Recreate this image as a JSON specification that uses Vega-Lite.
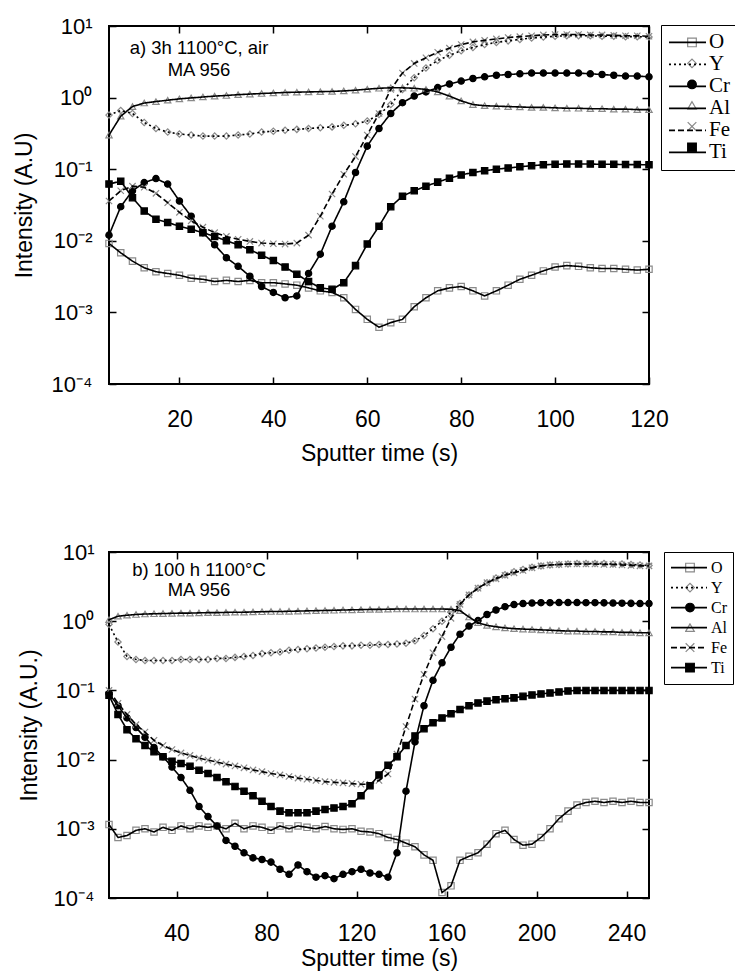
{
  "$schema": "https://vega.github.io/schema/vega-lite/v6.json",
  "padding": {"left": 12, "top": 14, "right": 0, "bottom": 0},
  "datasets": {
    "a": [
      {"t":5,"O":0.0092,"Y":0.57,"Cr":0.012,"Al":0.3,"Fe":0.036,"Ti":0.062},
      {"t":7.5,"O":0.0068,"Y":0.66,"Cr":0.03,"Al":0.55,"Fe":0.05,"Ti":0.068},
      {"t":10,"O":0.0052,"Y":0.6,"Cr":0.05,"Al":0.75,"Fe":0.058,"Ti":0.04},
      {"t":12.5,"O":0.0042,"Y":0.45,"Cr":0.065,"Al":0.84,"Fe":0.056,"Ti":0.026},
      {"t":15,"O":0.0037,"Y":0.37,"Cr":0.074,"Al":0.88,"Fe":0.046,"Ti":0.02},
      {"t":17.5,"O":0.0035,"Y":0.33,"Cr":0.062,"Al":0.92,"Fe":0.034,"Ti":0.018},
      {"t":20,"O":0.0033,"Y":0.31,"Cr":0.036,"Al":0.96,"Fe":0.025,"Ti":0.016},
      {"t":22.5,"O":0.003,"Y":0.3,"Cr":0.022,"Al":0.99,"Fe":0.019,"Ti":0.0145},
      {"t":25,"O":0.0029,"Y":0.29,"Cr":0.013,"Al":1.02,"Fe":0.0155,"Ti":0.013},
      {"t":27.5,"O":0.0027,"Y":0.29,"Cr":0.0088,"Al":1.05,"Fe":0.013,"Ti":0.0115},
      {"t":30,"O":0.0028,"Y":0.29,"Cr":0.0058,"Al":1.07,"Fe":0.0115,"Ti":0.01},
      {"t":32.5,"O":0.0027,"Y":0.3,"Cr":0.0044,"Al":1.1,"Fe":0.0105,"Ti":0.0088},
      {"t":35,"O":0.0028,"Y":0.31,"Cr":0.0032,"Al":1.12,"Fe":0.0098,"Ti":0.0075},
      {"t":37.5,"O":0.0026,"Y":0.33,"Cr":0.0023,"Al":1.14,"Fe":0.0093,"Ti":0.0063},
      {"t":40,"O":0.0026,"Y":0.34,"Cr":0.0019,"Al":1.16,"Fe":0.0091,"Ti":0.0053},
      {"t":42.5,"O":0.0025,"Y":0.35,"Cr":0.0016,"Al":1.18,"Fe":0.009,"Ti":0.0043},
      {"t":45,"O":0.0024,"Y":0.36,"Cr":0.0017,"Al":1.19,"Fe":0.0093,"Ti":0.0034},
      {"t":47.5,"O":0.0022,"Y":0.37,"Cr":0.0035,"Al":1.2,"Fe":0.012,"Ti":0.0027},
      {"t":50,"O":0.002,"Y":0.38,"Cr":0.0065,"Al":1.21,"Fe":0.022,"Ti":0.0022},
      {"t":52.5,"O":0.0019,"Y":0.39,"Cr":0.016,"Al":1.22,"Fe":0.045,"Ti":0.0021},
      {"t":55,"O":0.0016,"Y":0.41,"Cr":0.035,"Al":1.24,"Fe":0.085,"Ti":0.0026},
      {"t":57.5,"O":0.0011,"Y":0.43,"Cr":0.09,"Al":1.27,"Fe":0.15,"Ti":0.0045},
      {"t":60,"O":0.0008,"Y":0.47,"Cr":0.21,"Al":1.31,"Fe":0.3,"Ti":0.009},
      {"t":62.5,"O":0.00062,"Y":0.58,"Cr":0.37,"Al":1.35,"Fe":0.6,"Ti":0.016},
      {"t":65,"O":0.00072,"Y":0.8,"Cr":0.6,"Al":1.37,"Fe":1.3,"Ti":0.03},
      {"t":67.5,"O":0.0008,"Y":1.3,"Cr":0.85,"Al":1.37,"Fe":2.2,"Ti":0.042},
      {"t":70,"O":0.0012,"Y":1.9,"Cr":1.05,"Al":1.35,"Fe":3.0,"Ti":0.05},
      {"t":72.5,"O":0.0016,"Y":2.6,"Cr":1.2,"Al":1.3,"Fe":3.6,"Ti":0.058},
      {"t":75,"O":0.002,"Y":3.3,"Cr":1.38,"Al":1.2,"Fe":4.3,"Ti":0.066},
      {"t":77.5,"O":0.0022,"Y":3.9,"Cr":1.55,"Al":1.05,"Fe":4.9,"Ti":0.075},
      {"t":80,"O":0.0023,"Y":4.5,"Cr":1.7,"Al":0.9,"Fe":5.5,"Ti":0.083},
      {"t":82.5,"O":0.002,"Y":5.0,"Cr":1.85,"Al":0.8,"Fe":6.0,"Ti":0.09},
      {"t":85,"O":0.0017,"Y":5.5,"Cr":1.95,"Al":0.77,"Fe":6.3,"Ti":0.095},
      {"t":87.5,"O":0.002,"Y":5.9,"Cr":2.05,"Al":0.76,"Fe":6.6,"Ti":0.1},
      {"t":90,"O":0.0024,"Y":6.2,"Cr":2.1,"Al":0.75,"Fe":6.9,"Ti":0.104},
      {"t":92.5,"O":0.0029,"Y":6.5,"Cr":2.15,"Al":0.74,"Fe":7.1,"Ti":0.108},
      {"t":95,"O":0.0033,"Y":6.8,"Cr":2.2,"Al":0.73,"Fe":7.3,"Ti":0.112},
      {"t":97.5,"O":0.0038,"Y":7.0,"Cr":2.2,"Al":0.73,"Fe":7.5,"Ti":0.115},
      {"t":100,"O":0.0043,"Y":7.2,"Cr":2.2,"Al":0.72,"Fe":7.6,"Ti":0.117},
      {"t":102.5,"O":0.0045,"Y":7.3,"Cr":2.2,"Al":0.71,"Fe":7.6,"Ti":0.118},
      {"t":105,"O":0.0044,"Y":7.3,"Cr":2.2,"Al":0.71,"Fe":7.6,"Ti":0.118},
      {"t":107.5,"O":0.0042,"Y":7.3,"Cr":2.15,"Al":0.7,"Fe":7.5,"Ti":0.118},
      {"t":110,"O":0.0041,"Y":7.2,"Cr":2.1,"Al":0.7,"Fe":7.5,"Ti":0.117},
      {"t":112.5,"O":0.0041,"Y":7.2,"Cr":2.05,"Al":0.69,"Fe":7.4,"Ti":0.117},
      {"t":115,"O":0.004,"Y":7.1,"Cr":2.0,"Al":0.69,"Fe":7.3,"Ti":0.116},
      {"t":117.5,"O":0.0039,"Y":7.1,"Cr":2.0,"Al":0.68,"Fe":7.3,"Ti":0.116},
      {"t":120,"O":0.004,"Y":7.0,"Cr":1.95,"Al":0.68,"Fe":7.2,"Ti":0.115}
    ],
    "b": [
      {"t":10,"O":0.00115,"Y":0.9,"Cr":0.09,"Al":1.05,"Fe":0.1,"Ti":0.085},
      {"t":14,"O":0.00075,"Y":0.5,"Cr":0.06,"Al":1.18,"Fe":0.065,"Ti":0.045},
      {"t":18,"O":0.0008,"Y":0.31,"Cr":0.04,"Al":1.22,"Fe":0.045,"Ti":0.027},
      {"t":22,"O":0.00095,"Y":0.28,"Cr":0.029,"Al":1.25,"Fe":0.032,"Ti":0.02},
      {"t":26,"O":0.001,"Y":0.27,"Cr":0.021,"Al":1.27,"Fe":0.025,"Ti":0.016},
      {"t":30,"O":0.0009,"Y":0.27,"Cr":0.015,"Al":1.28,"Fe":0.019,"Ti":0.013},
      {"t":34,"O":0.00105,"Y":0.27,"Cr":0.011,"Al":1.29,"Fe":0.016,"Ti":0.011},
      {"t":38,"O":0.00095,"Y":0.27,"Cr":0.0078,"Al":1.3,"Fe":0.014,"Ti":0.0095},
      {"t":42,"O":0.0011,"Y":0.28,"Cr":0.0055,"Al":1.31,"Fe":0.0125,"Ti":0.0088},
      {"t":46,"O":0.001,"Y":0.28,"Cr":0.0036,"Al":1.31,"Fe":0.0115,"Ti":0.008},
      {"t":50,"O":0.0011,"Y":0.28,"Cr":0.0021,"Al":1.32,"Fe":0.0105,"Ti":0.007},
      {"t":54,"O":0.00105,"Y":0.28,"Cr":0.0015,"Al":1.33,"Fe":0.0098,"Ti":0.0063},
      {"t":58,"O":0.0011,"Y":0.29,"Cr":0.0011,"Al":1.33,"Fe":0.0092,"Ti":0.0055},
      {"t":62,"O":0.001,"Y":0.29,"Cr":0.00068,"Al":1.34,"Fe":0.0086,"Ti":0.0048},
      {"t":66,"O":0.0012,"Y":0.3,"Cr":0.00056,"Al":1.35,"Fe":0.0081,"Ti":0.0041},
      {"t":70,"O":0.001,"Y":0.31,"Cr":0.00045,"Al":1.35,"Fe":0.0076,"Ti":0.0035},
      {"t":74,"O":0.0011,"Y":0.32,"Cr":0.00038,"Al":1.36,"Fe":0.0071,"Ti":0.003},
      {"t":78,"O":0.00105,"Y":0.34,"Cr":0.00036,"Al":1.37,"Fe":0.0067,"Ti":0.0025},
      {"t":82,"O":0.00095,"Y":0.35,"Cr":0.00033,"Al":1.38,"Fe":0.0063,"Ti":0.0021},
      {"t":86,"O":0.0011,"Y":0.36,"Cr":0.00026,"Al":1.38,"Fe":0.006,"Ti":0.0018},
      {"t":90,"O":0.001,"Y":0.38,"Cr":0.00022,"Al":1.39,"Fe":0.0057,"Ti":0.0017},
      {"t":94,"O":0.0011,"Y":0.39,"Cr":0.0003,"Al":1.4,"Fe":0.0054,"Ti":0.0017},
      {"t":98,"O":0.00105,"Y":0.4,"Cr":0.00024,"Al":1.41,"Fe":0.0052,"Ti":0.0017},
      {"t":102,"O":0.001,"Y":0.41,"Cr":0.0002,"Al":1.42,"Fe":0.005,"Ti":0.0018},
      {"t":106,"O":0.00108,"Y":0.42,"Cr":0.00021,"Al":1.43,"Fe":0.0048,"Ti":0.0019},
      {"t":110,"O":0.001,"Y":0.43,"Cr":0.00019,"Al":1.44,"Fe":0.0047,"Ti":0.002},
      {"t":114,"O":0.00098,"Y":0.44,"Cr":0.00022,"Al":1.45,"Fe":0.0046,"Ti":0.0021},
      {"t":118,"O":0.001,"Y":0.44,"Cr":0.00024,"Al":1.46,"Fe":0.0045,"Ti":0.0023},
      {"t":122,"O":0.00092,"Y":0.45,"Cr":0.00026,"Al":1.47,"Fe":0.0044,"Ti":0.003},
      {"t":126,"O":0.0009,"Y":0.45,"Cr":0.00023,"Al":1.48,"Fe":0.0044,"Ti":0.0042},
      {"t":130,"O":0.00085,"Y":0.46,"Cr":0.00022,"Al":1.48,"Fe":0.005,"Ti":0.006},
      {"t":134,"O":0.00075,"Y":0.46,"Cr":0.0002,"Al":1.49,"Fe":0.0062,"Ti":0.0083},
      {"t":138,"O":0.0007,"Y":0.47,"Cr":0.00045,"Al":1.5,"Fe":0.012,"Ti":0.011},
      {"t":142,"O":0.00062,"Y":0.48,"Cr":0.0035,"Al":1.5,"Fe":0.03,"Ti":0.016},
      {"t":146,"O":0.00055,"Y":0.52,"Cr":0.018,"Al":1.5,"Fe":0.075,"Ti":0.022},
      {"t":150,"O":0.00042,"Y":0.62,"Cr":0.06,"Al":1.5,"Fe":0.17,"Ti":0.028},
      {"t":154,"O":0.00035,"Y":0.78,"Cr":0.14,"Al":1.5,"Fe":0.35,"Ti":0.034},
      {"t":158,"O":0.00012,"Y":1.0,"Cr":0.25,"Al":1.5,"Fe":0.6,"Ti":0.04},
      {"t":162,"O":0.00015,"Y":1.35,"Cr":0.42,"Al":1.49,"Fe":1.1,"Ti":0.046},
      {"t":166,"O":0.00035,"Y":1.8,"Cr":0.65,"Al":1.42,"Fe":1.75,"Ti":0.053},
      {"t":170,"O":0.0004,"Y":2.4,"Cr":0.85,"Al":1.15,"Fe":2.4,"Ti":0.06},
      {"t":174,"O":0.00045,"Y":3.0,"Cr":1.02,"Al":0.95,"Fe":3.0,"Ti":0.066},
      {"t":178,"O":0.0006,"Y":3.6,"Cr":1.25,"Al":0.87,"Fe":3.6,"Ti":0.07},
      {"t":182,"O":0.00085,"Y":4.2,"Cr":1.45,"Al":0.83,"Fe":4.1,"Ti":0.073},
      {"t":186,"O":0.00095,"Y":4.7,"Cr":1.62,"Al":0.8,"Fe":4.6,"Ti":0.076},
      {"t":190,"O":0.0007,"Y":5.2,"Cr":1.74,"Al":0.78,"Fe":5.0,"Ti":0.078},
      {"t":194,"O":0.00058,"Y":5.6,"Cr":1.8,"Al":0.77,"Fe":5.4,"Ti":0.082},
      {"t":198,"O":0.0006,"Y":6.0,"Cr":1.83,"Al":0.76,"Fe":5.9,"Ti":0.086},
      {"t":202,"O":0.00075,"Y":6.3,"Cr":1.85,"Al":0.75,"Fe":6.3,"Ti":0.089},
      {"t":206,"O":0.001,"Y":6.5,"Cr":1.85,"Al":0.74,"Fe":6.5,"Ti":0.092},
      {"t":210,"O":0.0014,"Y":6.6,"Cr":1.86,"Al":0.73,"Fe":6.6,"Ti":0.095},
      {"t":214,"O":0.0018,"Y":6.7,"Cr":1.86,"Al":0.72,"Fe":6.7,"Ti":0.098},
      {"t":218,"O":0.0022,"Y":6.8,"Cr":1.86,"Al":0.72,"Fe":6.7,"Ti":0.1},
      {"t":222,"O":0.0024,"Y":6.8,"Cr":1.85,"Al":0.71,"Fe":6.7,"Ti":0.1},
      {"t":226,"O":0.0025,"Y":6.8,"Cr":1.85,"Al":0.71,"Fe":6.7,"Ti":0.1},
      {"t":230,"O":0.0024,"Y":6.8,"Cr":1.84,"Al":0.7,"Fe":6.6,"Ti":0.1},
      {"t":234,"O":0.0025,"Y":6.7,"Cr":1.83,"Al":0.7,"Fe":6.6,"Ti":0.1},
      {"t":238,"O":0.0024,"Y":6.7,"Cr":1.82,"Al":0.69,"Fe":6.5,"Ti":0.1},
      {"t":242,"O":0.0025,"Y":6.6,"Cr":1.81,"Al":0.69,"Fe":6.4,"Ti":0.1},
      {"t":246,"O":0.0024,"Y":6.5,"Cr":1.8,"Al":0.68,"Fe":6.3,"Ti":0.1},
      {"t":250,"O":0.0024,"Y":6.4,"Cr":1.8,"Al":0.68,"Fe":6.3,"Ti":0.1}
    ]
  },
  "vconcat": [
    {
      "width": 540,
      "height": 358,
      "title": {"text": ["a) 3h 1100°C, air", "MA 956"], "anchor": "start", "frame": "group", "align": "center", "baseline": "top", "dx": 90, "dy": 64, "offset": 0, "fontSize": 18.5, "fontWeight": "normal", "lineHeight": 22, "font": "Liberation Sans", "color": "black"},
      "data": {"name": "a"},
      "transform": [{"fold": ["O", "Y", "Cr", "Al", "Fe", "Ti"], "as": ["el", "v"]}],
      "layer": [
        {
          "mark": {"type": "point", "filled": true, "strokeWidth": 1.2, "opacity": 1},
          "encoding": {
            "x": {"field": "t", "type": "quantitative", "scale": {"domain": [5, 120], "nice": false, "zero": false},
                  "axis": {"orient": "bottom", "values": [20, 40, 60, 80, 100, 120], "title": "Sputter time (s)", "labelPadding": 31, "titlePadding": 11, "labelFlush": false, "labelOverlap": false}},
            "y": {"field": "v", "type": "quantitative", "scale": {"type": "log", "domain": [0.0001, 10], "nice": false},
                  "axis": {"orient": "left", "values": [0.0001, 0.001, 0.01, 0.1, 1, 10], "title": "Intensity (A.U)", "labelPadding": 24, "titlePadding": 15, "labelOverlap": false,
                           "labelExpr": "datum.value > 5 ? '10¹' : datum.value > 0.5 ? '10⁰' : datum.value > 0.05 ? '10⁻¹' : datum.value > 0.005 ? '10⁻²' : datum.value > 0.0005 ? '10⁻³' : '10⁻⁴'"}},
            "shape": {"field": "el", "type": "nominal", "scale": {"domain": ["O", "Y", "Cr", "Al", "Fe", "Ti"], "range": ["square", "diamond", "circle", "triangle-up", "M-1,-1L1,1M-1,1L1,-1", "square"]},
                      "legend": {"orient": "right", "offset": 28, "title": null, "padding": 6, "clipHeight": 20.8, "rowPadding": 0, "symbolSize": 75, "symbolStrokeWidth": 1.2, "labelExpr": "''"}},
            "fill": {"field": "el", "type": "nominal", "scale": {"domain": ["O", "Y", "Cr", "Al", "Fe", "Ti"], "range": ["transparent", "transparent", "black", "transparent", "transparent", "black"]}, "legend": {"orient": "right"}},
            "stroke": {"field": "el", "type": "nominal", "scale": {"domain": ["O", "Y", "Cr", "Al", "Fe", "Ti"], "range": ["#8a8a8a", "#8a8a8a", "black", "#8a8a8a", "#8a8a8a", "black"]}, "legend": {"orient": "right"}},
            "size": {"field": "el", "type": "nominal", "scale": {"domain": ["O", "Y", "Cr", "Al", "Fe", "Ti", "~", "~~"], "range": [40, 40, 105, 40, 45, 80, 40, 40]}, "legend": null}
          }
        },
        {
          "mark": {"type": "line", "color": "black", "strokeWidth": 1.6},
          "encoding": {
            "x": {"field": "t", "type": "quantitative", "axis": {"orient": "top", "labels": false, "title": null, "values": [20, 40, 60, 80, 100, 120]}},
            "y": {"field": "v", "type": "quantitative", "axis": {"orient": "right", "labels": false, "title": null, "values": [0.0001, 0.001, 0.01, 0.1, 1, 10]}},
            "strokeDash": {"field": "el", "type": "nominal", "scale": {"domain": ["O", "Y", "Cr", "Al", "Fe", "Ti", "-"], "range": [[1, 0], [2, 3], [1, 0], [1, 0], [6, 3], [1, 0], [1, 0]]},
                           "legend": {"values": ["O", "Y", "Cr", "Al", "Fe", "Ti"], "orient": "none", "legendX": 552, "legendY": -1, "title": null, "symbolType": "stroke", "symbolSize": 1369, "symbolStrokeWidth": 1.6, "symbolStrokeColor": "black", "clipHeight": 20.8, "rowPadding": 0, "padding": 7, "strokeColor": "black", "labelFont": "Liberation Serif", "labelFontSize": 21, "labelOffset": 2, "labelColor": "black"}}
          }
        }
      ]
    },
    {
      "width": 540,
      "height": 346,
      "title": {"text": ["b) 100 h 1100°C", "MA 956"], "anchor": "start", "frame": "group", "align": "center", "baseline": "top", "dx": 90, "dy": 58, "offset": 0, "fontSize": 18.5, "fontWeight": "normal", "lineHeight": 20, "font": "Liberation Sans", "color": "black"},
      "data": {"name": "b"},
      "transform": [{"fold": ["O", "Y", "Cr", "Al", "Fe", "Ti"], "as": ["el", "v"]}],
      "layer": [
        {
          "mark": {"type": "point", "filled": true, "strokeWidth": 1.2, "opacity": 1},
          "encoding": {
            "x": {"field": "t", "type": "quantitative", "scale": {"domain": [10, 250], "nice": false, "zero": false},
                  "axis": {"orient": "bottom", "values": [40, 80, 120, 160, 200, 240], "title": "Sputter time (s)", "labelPadding": 31, "titlePadding": 2, "labelFlush": false, "labelOverlap": false}},
            "y": {"field": "v", "type": "quantitative", "scale": {"type": "log", "domain": [0.0001, 10], "nice": false},
                  "axis": {"orient": "left", "values": [0.0001, 0.001, 0.01, 0.1, 1, 10], "title": "Intensity (A.U.)", "labelPadding": 22, "titlePadding": 12, "labelOverlap": false,
                           "labelExpr": "datum.value > 5 ? '10¹' : datum.value > 0.5 ? '10⁰' : datum.value > 0.05 ? '10⁻¹' : datum.value > 0.005 ? '10⁻²' : datum.value > 0.0005 ? '10⁻³' : '10⁻⁴'"}},
            "shape": {"field": "el", "type": "nominal", "scale": {"domain": ["O", "Y", "Cr", "Al", "Fe", "Ti"], "range": ["square", "diamond", "circle", "triangle-up", "M-1,-1L1,1M-1,1L1,-1", "square"]},
                      "legend": {"orient": "right", "offset": 26, "title": null, "padding": 6, "clipHeight": 19.2, "rowPadding": 0, "symbolSize": 75, "symbolStrokeWidth": 1.2, "labelExpr": "''"}},
            "fill": {"field": "el", "type": "nominal", "scale": {"domain": ["O", "Y", "Cr", "Al", "Fe", "Ti"], "range": ["transparent", "transparent", "black", "transparent", "transparent", "black"]}, "legend": {"orient": "right"}},
            "stroke": {"field": "el", "type": "nominal", "scale": {"domain": ["O", "Y", "Cr", "Al", "Fe", "Ti"], "range": ["#8a8a8a", "#8a8a8a", "black", "#8a8a8a", "#8a8a8a", "black"]}, "legend": {"orient": "right"}},
            "size": {"field": "el", "type": "nominal", "scale": {"domain": ["O", "Y", "Cr", "Al", "Fe", "Ti", "~", "~~"], "range": [40, 40, 115, 40, 45, 80, 40, 40]}, "legend": null}
          }
        },
        {
          "mark": {"type": "line", "color": "black", "strokeWidth": 1.6},
          "encoding": {
            "x": {"field": "t", "type": "quantitative", "axis": {"orient": "top", "labels": false, "title": null, "values": [40, 80, 120, 160, 200, 240]}},
            "y": {"field": "v", "type": "quantitative", "axis": {"orient": "right", "labels": false, "title": null, "values": [0.0001, 0.001, 0.01, 0.1, 1, 10]}},
            "strokeDash": {"field": "el", "type": "nominal", "scale": {"domain": ["O", "Y", "Cr", "Al", "Fe", "Ti", "-"], "range": [[1, 0], [2, 3], [1, 0], [1, 0], [6, 3], [1, 0], [1, 0]]},
                           "legend": {"values": ["O", "Y", "Cr", "Al", "Fe", "Ti"], "orient": "none", "legendX": 555, "legendY": 0, "title": null, "symbolType": "stroke", "symbolSize": 1296, "symbolStrokeWidth": 1.6, "symbolStrokeColor": "black", "clipHeight": 19.2, "rowPadding": 0, "padding": 6, "strokeColor": "black", "labelFont": "Liberation Serif", "labelFontSize": 16, "labelOffset": 3, "labelColor": "black"}}
          }
        }
      ]
    }
  ],
  "spacing": 168,
  "bounds": "flush",
  "resolve": {
    "scale": {"shape": "independent", "fill": "independent", "stroke": "independent", "size": "independent", "strokeDash": "independent"},
    "legend": {"shape": "independent", "fill": "independent", "stroke": "independent", "size": "independent", "strokeDash": "independent"}
  },
  "config": {
    "font": "Liberation Sans",
    "view": {"stroke": "black", "strokeWidth": 2},
    "axis": {"domain": false, "grid": false, "tickColor": "black", "tickWidth": 1.5, "tickSize": -7, "labelColor": "black", "labelFont": "Liberation Sans", "labelFontSize": 22, "titleColor": "black", "titleFont": "Liberation Sans", "titleFontSize": 23, "titleFontWeight": "normal"},
    "axisX": {"labelFontSize": 23}
  }
}
